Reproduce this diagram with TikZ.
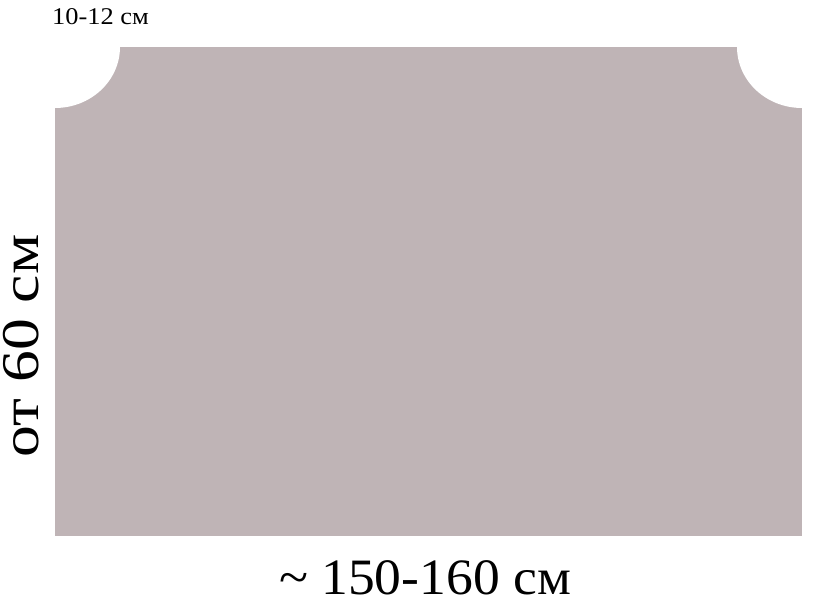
\documentclass[tikz,border=0pt]{standalone}
\usepackage{fontspec}
\setmainfont{Liberation Serif}
\definecolor{panel}{RGB}{191,180,182}
\begin{document}
\begin{tikzpicture}[x=1pt,y=-1pt,
  lbl/.style={inner sep=0pt,text=black}]
\useasboundingbox (0,0) rectangle (819,602);
\fill[white] (0,0) rectangle (819,602);
\fill[panel] (55,47) rectangle (802,536);
\fill[white] (55,47) ellipse[x radius=65pt,y radius=61pt];
\fill[white] (802,47) ellipse[x radius=65pt,y radius=61pt];
\node[lbl,font=\fontsize{24}{24}\selectfont,anchor=base west] (top) at (52,25) {\scalebox{1.1}[1]{10-12 см}};
\node[lbl,font=\fontsize{51}{51}\selectfont,anchor=base] (bottom) at (425,594) {\scalebox{1.05}[1]{\textasciitilde\ 150-160 см}};
\node[lbl,font=\fontsize{53}{53}\selectfont,anchor=base,rotate=90] (left) at (38,346) {\scalebox{1.2}[1]{от 60 см}};
\end{tikzpicture}
\end{document}
